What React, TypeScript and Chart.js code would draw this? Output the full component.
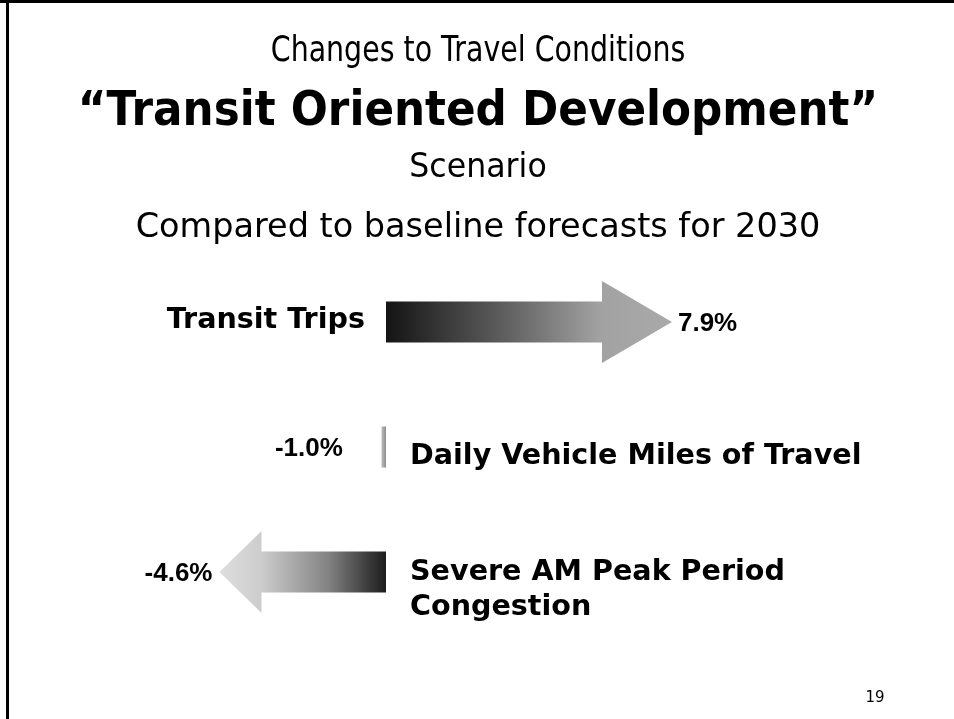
import React, { useEffect, useRef } from "react";
import { Chart, registerables } from "chart.js";

Chart.register(...registerables);

// ---- data ----
const categories = ["Transit Trips", "Daily Vehicle Miles of Travel", "Severe AM Peak Period\nCongestion"];
const changes = [7.9, -1.0, -4.6];
const valueLabels = ["7.9%", "-1.0%", "-4.6%"];
const titleLines = [
  "Changes to Travel Conditions",
  "\u201CTransit Oriented Development\u201D",
  "Scenario",
  "Compared to baseline forecasts for 2030",
];
const pageNumber = "19";

// ---- styles ----
const headLengths = [70, 12, 42];
const headHeights = [82, 70, 82];
const labelOffsets = [-4, 7, -2];
const arrowGradients: [number, string][][] = [
  [[0, "#141414"], [0.4, "#5c5c5c"], [0.75, "#a2a2a2"], [1, "#a9a9a9"]],
  [[0, "#8c8c8c"], [0.1, "#b4b4b4"], [0.17, "rgba(255,255,255,0)"], [1, "rgba(255,255,255,0)"]],
  [[0, "#1c1c1c"], [0.35, "#838383"], [0.75, "#cdcdcd"], [1, "#dddddd"]],
];
const titleStyles = [
  { font: '36px "DejaVu Sans"', baseline: 61, sx: 0.79 },
  { font: 'bold 48px "DejaVu Sans"', baseline: 125, sx: 0.91 },
  { font: '34px "DejaVu Sans"', baseline: 177, sx: 0.93 },
  { font: '33.5px "DejaVu Sans"', baseline: 237, sx: 1 },
];

const slidePlugin = {
  id: "slide",
  beforeDraw(chart: any) {
    const ctx = chart.ctx;
    ctx.save();
    ctx.fillStyle = "#ffffff";
    ctx.fillRect(0, 0, chart.width, chart.height);
    ctx.fillStyle = "#000000";
    ctx.fillRect(0, 0, chart.width, 3);
    ctx.fillRect(6, 0, 3, chart.height);
    ctx.textAlign = "center";
    ctx.textBaseline = "alphabetic";
    titleLines.forEach((t, i) => {
      const s = titleStyles[i];
      ctx.save();
      ctx.translate(478, s.baseline);
      ctx.scale(s.sx, 1);
      ctx.font = s.font;
      ctx.fillText(t, 0, 0);
      ctx.restore();
    });
    ctx.font = '15px "DejaVu Sans"';
    ctx.fillText(pageNumber, 875, 702);
    ctx.restore();
  },
  afterDatasetsDraw(chart: any) {
    const ctx = chart.ctx;
    const meta = chart.getDatasetMeta(0);
    ctx.save();
    meta.data.forEach((el: any, i: number) => {
      const { x, y, base, height } = el.getProps(["x", "y", "base", "height"], true);
      const dir = x >= base ? 1 : -1;
      const neck = x - dir * headLengths[i];
      const sh = height / 2;
      const hh = headHeights[i] / 2;
      ctx.beginPath();
      ctx.moveTo(base, y - sh);
      ctx.lineTo(neck, y - sh);
      ctx.lineTo(neck, y - hh);
      ctx.lineTo(x, y);
      ctx.lineTo(neck, y + hh);
      ctx.lineTo(neck, y + sh);
      ctx.lineTo(base, y + sh);
      ctx.closePath();
      const g = ctx.createLinearGradient(base, 0, x, 0);
      arrowGradients[i].forEach(([o, c]) => g.addColorStop(o, c));
      ctx.fillStyle = g;
      ctx.fill();

      // category label
      ctx.fillStyle = "#000000";
      ctx.font = 'bold 28.6px "DejaVu Sans"';
      ctx.textBaseline = "alphabetic";
      const lines = categories[i].split("\n");
      const lx = dir > 0 ? base - 21 : base + 24;
      ctx.textAlign = dir > 0 ? "right" : "left";
      lines.forEach((ln, k) => {
        ctx.fillText(ln, lx, y + labelOffsets[i] + 10 + k * 35);
      });

      // value label
      ctx.font = 'bold 26px "Liberation Sans"';
      ctx.textAlign = dir > 0 ? "left" : "right";
      ctx.fillText(valueLabels[i], dir > 0 ? x + 6 : x - 7, y + 9);
    });
    ctx.restore();
  },
};

export default function App() {
  const ref = useRef<HTMLCanvasElement | null>(null);
  useEffect(() => {
    if (!ref.current) return;
    const chart = new Chart(ref.current, {
      type: "bar",
      data: {
        labels: categories,
        datasets: [
          {
            data: changes,
            backgroundColor: "rgba(0,0,0,0)",
            borderWidth: 0,
            barThickness: 41,
          },
        ],
      },
      options: {
        indexAxis: "y",
        responsive: false,
        animation: false,
        devicePixelRatio: 1,
        layout: { padding: { left: 24, right: 25, top: 259.5, bottom: 84.5 } },
        scales: {
          x: { type: "linear", min: -10, max: 15, display: false },
          y: { type: "category", display: false, offset: true },
        },
        plugins: { legend: { display: false }, tooltip: { enabled: false }, title: { display: false } },
      },
      plugins: [slidePlugin],
    } as any);
    return () => chart.destroy();
  }, []);
  return (
    <div style={{ position: "absolute", left: 0, top: 0, width: 954, height: 719 }}>
      <canvas ref={ref} width={954} height={719} />
    </div>
  );
}
